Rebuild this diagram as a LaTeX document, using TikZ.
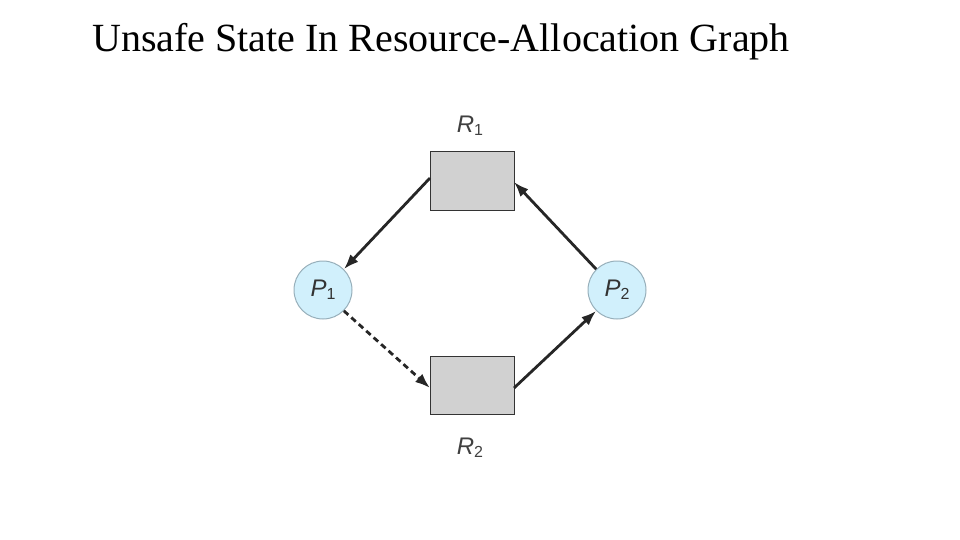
\documentclass[tikz,border=0pt]{standalone}
\usepackage{fontspec}
\setmainfont{Liberation Serif}
\newfontfamily\lsans{Liberation Sans}
\usetikzlibrary{arrows.meta}
\newcommand{\lab}[2]{\textit{#1}\raisebox{-3pt}{\fontsize{16}{16}\selectfont #2}}
\begin{document}
\begin{tikzpicture}[x=1pt,y=-1pt,
  res/.style={draw=black!80,fill=black!18,minimum width=84pt,minimum height=58pt,inner sep=0pt,line width=1pt},
  proc/.style={circle,draw=cyan!40!black!50,fill=cyan!18,minimum size=58pt,inner sep=0pt,line width=1pt,font=\lsans\fontsize{24}{24}\selectfont,text=black!80},
  lbl/.style={font=\lsans\fontsize{24}{24}\selectfont,text=black!75},
  edge/.style={-{Latex[length=15pt,width=11pt]},line width=2.8pt,black!85}]
\useasboundingbox (0,0) rectangle (960,540);
\node[anchor=west,font=\fontsize{40}{40}\selectfont,inner sep=0pt] (title) at (92,42) {Unsafe State In Resource-Allocation Graph};
\node[res] (R1) at (472,181) {};
\node[res] (R2) at (472,385) {};
\node[proc] (P1) at (323,290) {\lab{P}{1}};
\node[proc] (P2) at (617,290) {\lab{P}{2}};
\node[lbl] (l1) at (470,126) {\lab{R}{1}};
\node[lbl] (l2) at (470,448) {\lab{R}{2}};
\coordinate (a1) at (430,178);
\coordinate (a2) at (514,182);
\coordinate (a3) at (430,388);
\coordinate (a4) at (514,388);
\draw[edge] (a1) -- (P1.45);
\draw[edge] (P2.135) -- (a2);
\draw[edge,dash pattern=on 6pt off 4pt] (P1.-45) -- (a3);
\draw[edge] (a4) -- (P2.-135);
\end{tikzpicture}
\end{document}
